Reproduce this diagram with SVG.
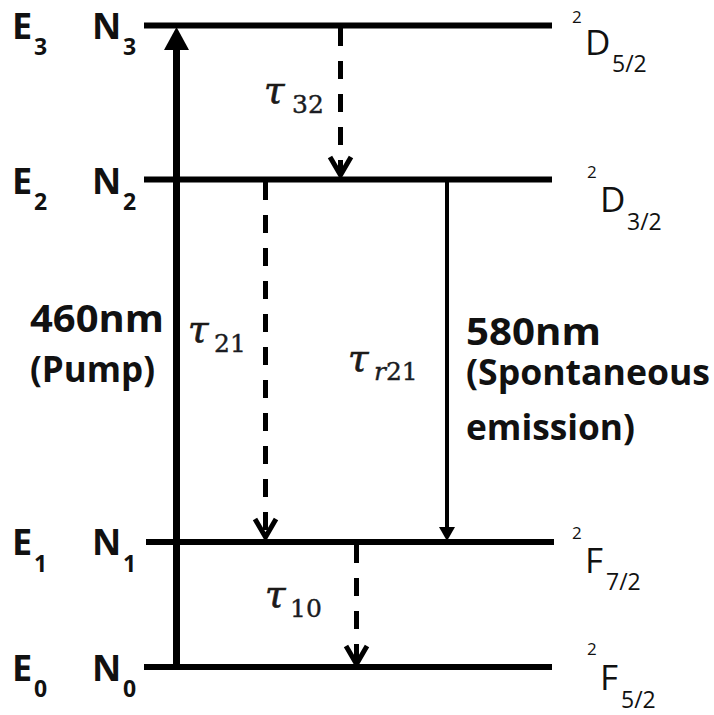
<svg xmlns="http://www.w3.org/2000/svg" width="714" height="715" viewBox="0 0 714 715">
<style>
.lvl{stroke:#000;stroke-width:6;fill:none}
.lb{font-family:"Open Sans","Liberation Sans",sans-serif;font-weight:bold;fill:#111}
.big{font-size:38px}
.par{font-size:35px}
.en{font-size:36px}
.sub{font-size:23px}
.term{font-family:"Open Sans","Liberation Sans",sans-serif;fill:#111}
.tD{font-size:35px}
.tsup{font-size:17px}
.tsub{font-size:23px}
.tau{font-family:"DejaVu Serif","Liberation Serif",serif;font-style:italic;font-size:37px;fill:#1c1a18;stroke:#1c1a18;stroke-width:0.7}
.tn{font-family:"DejaVu Serif","Liberation Serif",serif;font-size:25px;fill:#1a1c22;stroke:#1a1c22;stroke-width:0.4}
.ti{font-style:italic}
.dash{stroke:#000;stroke-width:5;fill:none;stroke-dasharray:18 15}
.chev{stroke:#000;stroke-width:5;fill:none;stroke-linejoin:miter}
</style>
<rect width="714" height="715" fill="#fff"/>
<g id="level3">
<line class="lvl" x1="144" y1="25.5" x2="552" y2="25.5"/>
<text class="lb en" x="12" y="39">E</text><text class="lb sub" x="34" y="55">3</text>
<text class="lb en" x="92" y="39">N</text><text class="lb sub" x="123" y="55">3</text>
<text class="term tsup" x="572" y="23">2</text><text class="term tD" x="585" y="55">D</text><text class="term tsub" x="612" y="72">5/2</text>
</g>
<g id="level2">
<line class="lvl" x1="144" y1="179.5" x2="552" y2="179.5"/>
<text class="lb en" x="12" y="194">E</text><text class="lb sub" x="34" y="210">2</text>
<text class="lb en" x="92" y="194">N</text><text class="lb sub" x="123" y="210">2</text>
<text class="term tsup" x="587" y="178">2</text><text class="term tD" x="600" y="212">D</text><text class="term tsub" x="627" y="230">3/2</text>
</g>
<g id="level1">
<line class="lvl" x1="146" y1="542" x2="554" y2="542"/>
<text class="lb en" x="12" y="555">E</text><text class="lb sub" x="34" y="572">1</text>
<text class="lb en" x="92" y="555">N</text><text class="lb sub" x="123" y="572">1</text>
<text class="term tsup" x="572" y="539">2</text><text class="term tD" x="585" y="573">F</text><text class="term tsub" x="606" y="590">7/2</text>
</g>
<g id="level0">
<line class="lvl" x1="144" y1="667" x2="552" y2="667"/>
<text class="lb en" x="12" y="681">E</text><text class="lb sub" x="34" y="697">0</text>
<text class="lb en" x="92" y="681">N</text><text class="lb sub" x="123" y="697">0</text>
<text class="term tsup" x="587" y="655">2</text><text class="term tD" x="600" y="690">F</text><text class="term tsub" x="621" y="708">5/2</text>
</g>
<g id="connectors">
<g id="pump">
<line x1="176.5" y1="667" x2="176.5" y2="48" stroke="#000" stroke-width="7"/>
<polygon points="164,50 176.5,27 189,50" fill="#000"/>
</g>
<g id="t32">
<line class="dash" x1="340.5" y1="28" x2="340.5" y2="174"/>
<polyline class="chev" points="330,157 340.5,175 351,157"/>
</g>
<g id="t21">
<line class="dash" x1="265.5" y1="182" x2="265.5" y2="536"/>
<polyline class="chev" points="255,519 265.5,537 276,519"/>
</g>
<g id="tr21">
<line x1="447" y1="181" x2="447" y2="528" stroke="#000" stroke-width="4"/>
<polygon points="439,527 455,527 447,541" fill="#000"/>
</g>
<g id="t10">
<line class="dash" x1="356.5" y1="545" x2="356.5" y2="663"/>
<polyline class="chev" points="346,646 356.5,664 367,646"/>
</g>
</g>
<g id="labels">
<text class="lb big" x="30" y="332" textLength="134" lengthAdjust="spacingAndGlyphs">460nm</text>
<text class="lb par" x="30" y="382" textLength="125" lengthAdjust="spacingAndGlyphs">(Pump)</text>
<text class="lb big" x="466" y="345" textLength="135" lengthAdjust="spacingAndGlyphs">580nm</text>
<text class="lb par" x="466" y="385" textLength="244" lengthAdjust="spacingAndGlyphs">(Spontaneous</text>
<text class="lb par" x="466" y="440" textLength="169" lengthAdjust="spacingAndGlyphs">emission)</text>
<text class="tau" x="264" y="103">τ</text><text class="tn" x="292" y="113">32</text>
<text class="tau" x="188" y="342">τ</text><text class="tn" x="214" y="352">21</text>
<text class="tau" x="348" y="371">τ</text><text class="tn" x="374" y="380"><tspan class="ti">r</tspan>21</text>
<text class="tau" x="265" y="607">τ</text><text class="tn" x="290" y="617">10</text>
</g>
</svg>
